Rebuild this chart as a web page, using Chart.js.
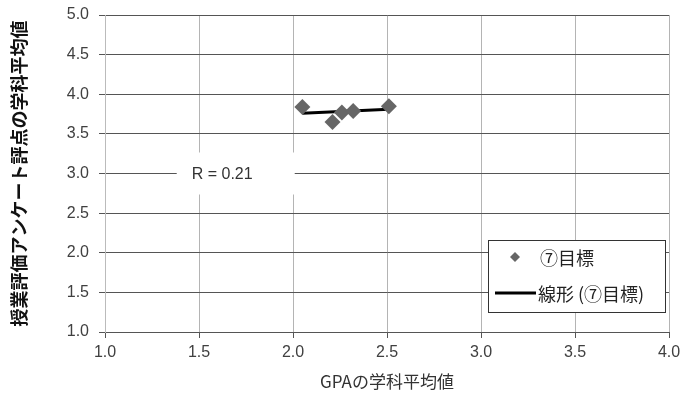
<!DOCTYPE html>
<html>
<head>
<meta charset="utf-8">
<script src="https://cdn.jsdelivr.net/npm/chart.js@4"></script>
<style>
  html, body { margin: 0; padding: 0; background: #fff; }
  #wrap { width: 683px; height: 396px; }
</style>
</head>
<body>
<div id="wrap"><canvas id="c" width="683" height="396"></canvas></div>
<script>
// scatter values
const gpaX = [2.05, 2.21, 2.26, 2.32, 2.51];
const scoreY = [3.84, 3.65, 3.77, 3.79, 3.85];
// trend line end points
const trendX = [2.05, 2.51];
const trendY = [3.76, 3.81];

const seriesName = '⑦目標';
const trendName = '線形 (⑦目標)';
const rText = 'R = 0.21';

const FONT = "'Liberation Sans', 'Noto Sans CJK JP', sans-serif";
const CJK = "'Noto Sans CJK JP', 'Liberation Sans', sans-serif";

// R label box and legend box drawn on top
const extras = {
  id: 'extras',
  afterDatasetsDraw(chart) {
    const ctx = chart.ctx;
    const xs = chart.scales.x, ys = chart.scales.y;
    // R label
    const cx = xs.getPixelForValue(1.69), cy = ys.getPixelForValue(3.0);
    ctx.save();
    ctx.fillStyle = '#fff';
    ctx.fillRect(cx - 58, cy - 21, 118, 42);
    ctx.fillStyle = '#333';
    ctx.font = '16px ' + FONT;
    ctx.textBaseline = 'middle';
    ctx.fillText(rText, cx - 43, cy + 1);

    // legend
    const lx = 488, ly = 240, lw = 177, lh = 72;
    ctx.fillStyle = '#fff';
    ctx.fillRect(lx, ly, lw, lh);
    ctx.strokeStyle = '#333';
    ctx.lineWidth = 1;
    ctx.strokeRect(lx + 0.5, ly + 0.5, lw, lh);
    // diamond
    ctx.fillStyle = '#666';
    ctx.beginPath();
    ctx.moveTo(515, 252); ctx.lineTo(520, 257); ctx.lineTo(515, 262); ctx.lineTo(510, 257);
    ctx.closePath(); ctx.fill();
    ctx.fillStyle = '#222';
    ctx.font = '18px ' + CJK;
    ctx.fillText(seriesName, 540, 258);
    // line
    ctx.strokeStyle = '#000';
    ctx.lineWidth = 3;
    ctx.beginPath(); ctx.moveTo(495, 293); ctx.lineTo(536, 293); ctx.stroke();
    ctx.fillText(trendName, 538, 294);
    ctx.restore();
  }
};

new Chart(document.getElementById('c').getContext('2d'), {
  type: 'scatter',
  data: {
    datasets: [
      {
        label: seriesName,
        data: gpaX.map((x, i) => ({ x, y: scoreY[i] })),
        pointStyle: 'rectRot',
        pointRadius: 8,
        backgroundColor: '#666',
        borderColor: '#666',
        borderWidth: 0
      },
      {
        label: trendName,
        data: trendX.map((x, i) => ({ x, y: trendY[i] })),
        showLine: true,
        pointRadius: 0,
        borderColor: '#000',
        borderWidth: 3
      }
    ]
  },
  options: {
    responsive: false,
    animation: false,
    layout: { padding: { top: 15, right: 14, left: 0, bottom: 0 } },
    plugins: { legend: { display: false }, tooltip: { enabled: false } },
    scales: {
      x: {
        type: 'linear', min: 1, max: 4,
        afterFit(s) { s.height = 64; s.paddingLeft = 0; s.paddingRight = 0; },
        ticks: { stepSize: 0.5, padding: 5, color: '#404040', font: { family: FONT, size: 16 },
                 callback: v => v.toFixed(1) },
        grid: { color: '#b4b4b4', tickColor: '#555', tickLength: 6 },
        border: { color: '#555' },
        title: { display: true, text: 'GPAの学科平均値', color: '#333',
                 font: { family: CJK, size: 17 }, padding: { top: 2, bottom: 4 } }
      },
      y: {
        type: 'linear', min: 1, max: 5,
        afterFit(s) { s.width = 105; s.paddingTop = 0; s.paddingBottom = 0; },
        ticks: { stepSize: 0.5, padding: 10, color: '#404040', font: { family: FONT, size: 16 },
                 callback: v => v.toFixed(1) },
        grid: { color: '#555', tickLength: 6 },
        border: { color: '#bbb' },
        title: { display: true, text: '授業評価アンケート評点の学科平均値', color: '#111',
                 font: { family: CJK, size: 18, weight: 'bold' }, padding: { top: 8, bottom: 4 } }
      }
    }
  },
  plugins: [extras]
});
</script>
</body>
</html>
